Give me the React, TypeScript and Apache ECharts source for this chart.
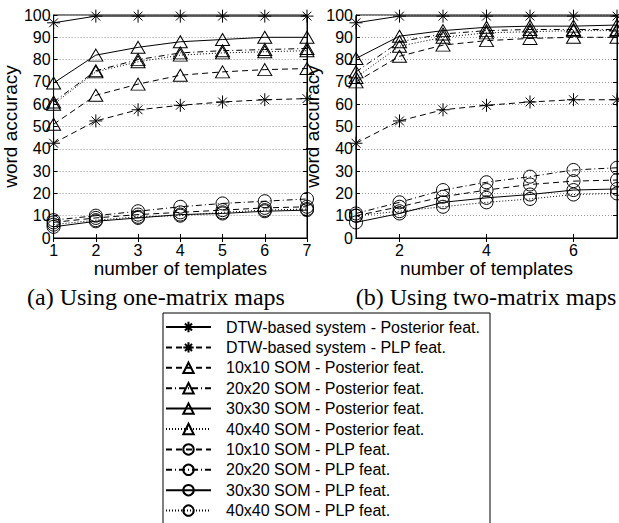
import React, { useEffect, useRef } from "react";
import * as echarts from "echarts";

// ---- data ----
const templates = [1, 2, 3, 4, 5, 6, 7];

const seriesNames = [
  "DTW-based system - Posterior feat.",
  "DTW-based system - PLP feat.",
  "10x10 SOM - Posterior feat.",
  "20x20 SOM - Posterior feat.",
  "30x30 SOM - Posterior feat.",
  "40x40 SOM - Posterior feat.",
  "10x10 SOM - PLP feat.",
  "20x20 SOM - PLP feat.",
  "30x30 SOM - PLP feat.",
  "40x40 SOM - PLP feat.",
];

// (a) one-matrix maps
const oneDtwPost = [96.5, 99.5, 99.5, 99.5, 99.5, 99.5, 99.5];
const oneDtwPlp = [42.5, 52.5, 57.5, 59.5, 61, 62, 62.5];
const oneSom10Post = [51, 64, 69, 73, 74.5, 75.5, 76];
const oneSom20Post = [61, 75, 80, 83, 84, 84.5, 85];
const oneSom30Post = [69.5, 82, 85.5, 88, 89, 90, 90];
const oneSom40Post = [60, 74.5, 79, 82, 83, 83.5, 84];
const oneSom10Plp = [7, 9, 10.5, 11.5, 12.5, 13.5, 14];
const oneSom20Plp = [8, 10, 12, 14, 15.5, 16.5, 17.5];
const oneSom30Plp = [5, 7.5, 9, 10.5, 11, 12, 12.5];
const oneSom40Plp = [6, 8, 9.5, 10, 11.5, 12.5, 13];

// (b) two-matrix maps
const twoDtwPost = [96.5, 99.5, 99.5, 99.5, 99.5, 99.5, 99.5];
const twoDtwPlp = [42.5, 52.5, 57.5, 59.5, 61, 62, 62];
const twoSom10Post = [70, 81.5, 86.5, 88.5, 89.5, 90, 90];
const twoSom20Post = [74.5, 88, 91.5, 93, 93.5, 93.5, 93.5];
const twoSom30Post = [80.5, 90.5, 93, 94.5, 95, 95, 95.5];
const twoSom40Post = [72, 86, 90, 92, 92.5, 93, 93];
const twoSom10Plp = [10, 14, 18.5, 21.5, 24, 25.5, 26];
const twoSom20Plp = [11, 16, 21.5, 25, 27.5, 30.5, 31.5];
const twoSom30Plp = [7, 11, 16, 18, 19.5, 21.5, 22];
const twoSom40Plp = [10, 12, 14, 16, 17.5, 19.5, 20];

const oneMatrix = [
  oneDtwPost, oneDtwPlp, oneSom10Post, oneSom20Post, oneSom30Post,
  oneSom40Post, oneSom10Plp, oneSom20Plp, oneSom30Plp, oneSom40Plp,
];
const twoMatrix = [
  twoDtwPost, twoDtwPlp, twoSom10Post, twoSom20Post, twoSom30Post,
  twoSom40Post, twoSom10Plp, twoSom20Plp, twoSom30Plp, twoSom40Plp,
];

const yTicks = [0, 10, 20, 30, 40, 50, 60, 70, 80, 90, 100];
const rightXTicks = [2, 4, 6];

const xTitle = "number of templates";
const yTitle = "word accuracy";
const captionA = "(a) Using one-matrix maps";
const captionB = "(b) Using two-matrix maps";

// ---- styles ----
const SANS = "'Liberation Sans', Arial, Helvetica, sans-serif";
const SERIF = "'Liberation Serif', 'Times New Roman', serif";
const ASTERISK =
  "path://M0,5L10,5M5,0L5,10M1.6,1.6L8.4,8.4M8.4,1.6L1.6,8.4";
const DASH = [6, 4];
const DASHDOT = [6, 3, 1, 3];
const DOT = [1, 2];
const lineTypes: any[] = [
  "solid", DASH, DASH, DASHDOT, "solid", DOT, DASH, DASHDOT, "solid", DOT,
];
const symbols = [
  ASTERISK, ASTERISK, "triangle", "triangle", "triangle", "triangle",
  "circle", "circle", "circle", "circle",
];
const symbolSizes: any[] = [
  13, 13, [14, 12], [14, 12], [14, 12], [14, 12], 13, 13, 13, 13,
];

const GRIDS = [
  { left: 46, top: 15, width: 261, height: 223 },
  { left: 356, top: 15, width: 261, height: 223 },
];
const CAPTION_X = [156, 486];

function makeAxes() {
  const xAxes: any[] = [];
  const yAxes: any[] = [];
  GRIDS.forEach((_, gi) => {
    const customX = gi === 1 ? rightXTicks : undefined;
    const baseX: any = {
      type: "value",
      gridIndex: gi,
      min: templates[0],
      max: templates[templates.length - 1],
      interval: 1,
      axisLine: { show: true, lineStyle: { color: "#000", width: 1 } },
      axisTick: {
        show: true,
        inside: true,
        length: 4,
        lineStyle: { color: "#000" },
        ...(customX ? { customValues: customX } : {}),
      },
      splitLine: { show: false },
    };
    xAxes.push({
      ...baseX,
      position: "bottom",
      name: xTitle,
      nameLocation: "middle",
      nameGap: 21,
      nameTextStyle: { fontSize: 19, color: "#000", fontFamily: SANS },
      axisLabel: {
        show: true,
        fontSize: 16,
        color: "#000",
        margin: 4,
        fontFamily: SANS,
        ...(customX ? { customValues: customX } : {}),
      },
    });
    xAxes.push({ ...baseX, position: "top", axisLabel: { show: false } });
    const baseY: any = {
      type: "value",
      gridIndex: gi,
      min: yTicks[0],
      max: yTicks[yTicks.length - 1],
      interval: yTicks[1] - yTicks[0],
      axisLine: { show: true, lineStyle: { color: "#000", width: 1 } },
      axisTick: { show: true, inside: true, length: 4, lineStyle: { color: "#000" } },
    };
    yAxes.push({
      ...baseY,
      position: "left",
      name: yTitle,
      nameLocation: "middle",
      nameGap: 20,
      nameTextStyle: { fontSize: 19, color: "#000", fontFamily: SANS },
      axisLabel: { show: true, fontSize: 16, color: "#000", margin: 3, fontFamily: SANS },
      splitLine: {
        show: true,
        lineStyle: { color: "#9a9a9a", type: [1, 2], width: 1 },
      },
    });
    yAxes.push({
      ...baseY,
      position: "right",
      axisLabel: { show: false },
      splitLine: { show: false },
    });
  });
  return { xAxes, yAxes };
}

function makeSeries() {
  const series: any[] = [];
  [oneMatrix, twoMatrix].forEach((set, gi) => {
    set.forEach((vals, si) => {
      series.push({
        type: "line",
        name: seriesNames[si],
        xAxisIndex: gi * 2,
        yAxisIndex: gi * 2,
        data: templates.map((t, i) => [t, vals[i]]),
        symbol: symbols[si],
        symbolSize: symbolSizes[si],
        showSymbol: true,
        showAllSymbol: true,
        lineStyle: { color: "#000", width: 1, type: lineTypes[si] },
        itemStyle: { color: "transparent", borderColor: "#000", borderWidth: 1 },
        emphasis: { disabled: true },
        silent: true,
        z: 10 - si,
      });
    });
  });
  return series;
}

export default function App() {
  const ref = useRef<HTMLDivElement>(null);
  useEffect(() => {
    if (!ref.current) return;
    const chart = echarts.init(ref.current, null, { renderer: "svg" });
    const { xAxes, yAxes } = makeAxes();
    chart.setOption({
      animation: false,
      backgroundColor: "#fff",
      textStyle: { fontFamily: SANS },
      grid: GRIDS.map((g) => ({
        ...g,
        show: true,
        borderColor: "#000",
        borderWidth: 1,
        backgroundColor: "transparent",
      })),
      xAxis: xAxes,
      yAxis: yAxes,
      legend: {
        show: true,
        orient: "vertical",
        left: 163,
        top: 313,
        data: seriesNames,
        itemWidth: 45,
        itemHeight: 13,
        itemGap: 4.4,
        padding: [6, 10, 12, 2],
        borderColor: "#000",
        borderWidth: 1,
        backgroundColor: "#fff",
        selectedMode: false,
        textStyle: {
          fontSize: 16,
          color: "#000",
          fontFamily: SANS,
          lineHeight: 16,
          padding: [0, 0, 0, 10],
        },
      },
      graphic: [
        {
          type: "text",
          x: CAPTION_X[0],
          y: 297,
          style: {
            text: captionA,
            font: `24px ${SERIF}`,
            fill: "#000",
            textAlign: "center",
            textVerticalAlign: "middle",
          },
        },
        {
          type: "text",
          x: CAPTION_X[1],
          y: 297,
          style: {
            text: captionB,
            font: `24px ${SERIF}`,
            fill: "#000",
            textAlign: "center",
            textVerticalAlign: "middle",
          },
        },
      ],
      series: makeSeries(),
    });
    return () => chart.dispose();
  }, []);
  return (
    <div
      ref={ref}
      style={{ position: "fixed", left: 0, top: 0, width: 619, height: 570 }}
    />
  );
}
